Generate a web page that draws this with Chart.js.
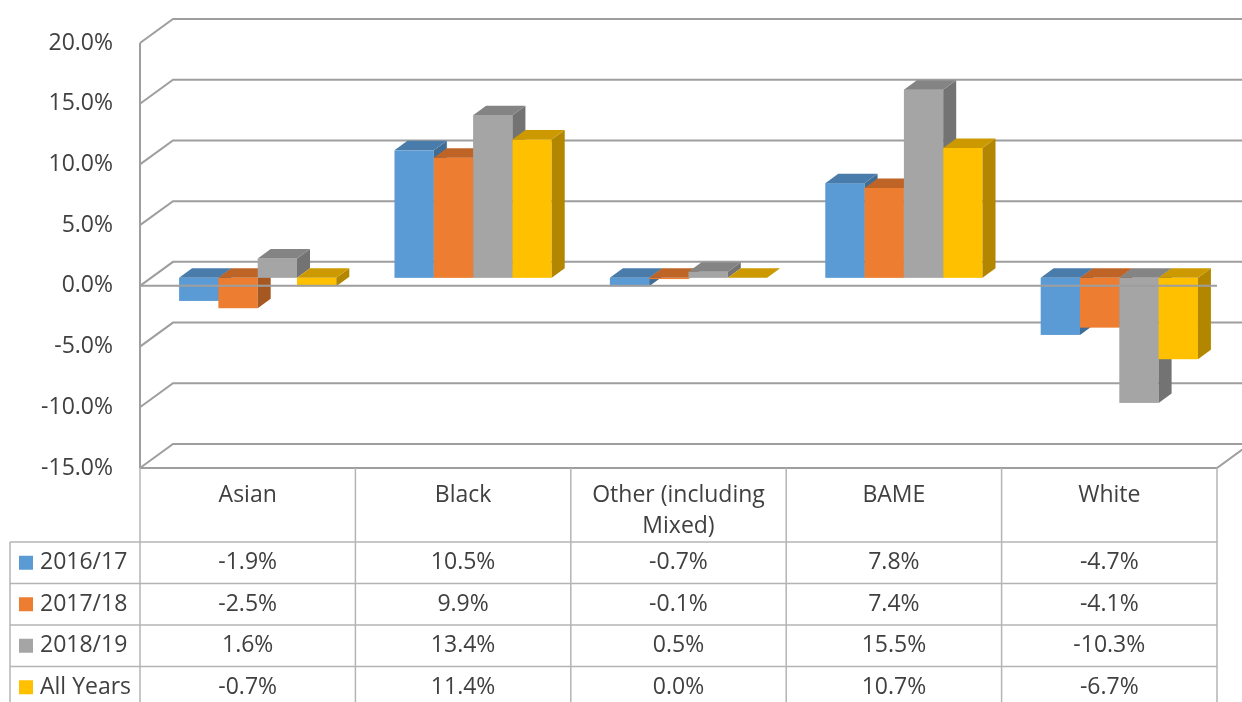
<!DOCTYPE html>
<html>
<head>
<meta charset="utf-8">
<script src="https://cdn.jsdelivr.net/npm/chart.js@4/dist/chart.umd.min.js"></script>
<style>
html, body { margin: 0; padding: 0; background: #fff; }
#wrap { width: 1242px; height: 702px; }
</style>
</head>
<body>
<div id="wrap"><canvas id="grafico" width="1242" height="702"></canvas></div>
<script>
// ===== dados =====
const categorias = [["Asian"], ["Black"], ["Other (including", "Mixed)"], ["BAME"], ["White"]];
const series = ["2016/17", "2017/18", "2018/19", "All Years"];
const v2016 = [-1.9, 10.5, -0.7, 7.8, -4.7];
const v2017 = [-2.5, 9.9, -0.1, 7.4, -4.1];
const v2018 = [1.6, 13.4, 0.5, 15.5, -10.3];
const vTodos = [-0.7, 11.4, 0.0, 10.7, -6.7];
const valores = [v2016, v2017, v2018, vTodos];
const cores = ["#5b9bd5", "#ed7d31", "#a5a5a5", "#ffc000"];
const yMin = -15, yMax = 20, yPasso = 5;

const fonte = '"Open Sans", "Liberation Sans", sans-serif';
const corTexto = "#404040";
const corGrade = "#9e9e9e";
const corTabela = "#b4b4b4";
const PAREDE = { dx: 33, dy: -24 };              // profundidade das paredes
const BARRA = { ox: 10, oy: -8, dx: 13, dy: -9.5 }; // posição e espessura das barras

function escurecer(hex, f) {
    let n = parseInt(hex.slice(1), 16);
    let r = Math.round(((n >> 16) & 255) * f);
    let g = Math.round(((n >> 8) & 255) * f);
    let b = Math.round((n & 255) * f);
    return `rgb(${r},${g},${b})`;
}

function fmt(v) {
    return v.toFixed(1) + "%";
}

function desenharBarra(ctx, el, cor) {
    const p = el.getProps(["x", "y", "base", "width"], true);
    const l = p.x - p.width / 2 + BARRA.ox, r = p.x + p.width / 2 + BARRA.ox;
    const topo = Math.min(p.y, p.base) + BARRA.oy;
    const fundo = Math.max(p.y, p.base) + BARRA.oy;
    const dx = BARRA.dx, dy = BARRA.dy;
    // frente
    ctx.fillStyle = cor;
    ctx.fillRect(l, topo, r - l, fundo - topo);
    // lateral direita
    ctx.fillStyle = escurecer(cor, 0.7);
    ctx.beginPath();
    ctx.moveTo(r, topo); ctx.lineTo(r + dx, topo + dy);
    ctx.lineTo(r + dx, fundo + dy); ctx.lineTo(r, fundo);
    ctx.closePath(); ctx.fill();
    // topo
    ctx.fillStyle = escurecer(cor, 0.8);
    ctx.beginPath();
    ctx.moveTo(l, topo); ctx.lineTo(l + dx, topo + dy);
    ctx.lineTo(r + dx, topo + dy); ctx.lineTo(r, topo);
    ctx.closePath(); ctx.fill();
}

// ===== plugin 3D + tabela =====
const grafico3d = {
    id: "grafico3d",
    beforeDatasetsDraw(chart) {
        const ctx = chart.ctx, a = chart.chartArea, y = chart.scales.y;
        ctx.save();
        ctx.strokeStyle = corGrade;
        ctx.lineWidth = 2;
        // parede do fundo e parede esquerda
        y.ticks.forEach(t => {
            const py = y.getPixelForValue(t.value);
            ctx.beginPath();
            ctx.moveTo(a.left, py);
            ctx.lineTo(a.left + PAREDE.dx, py + PAREDE.dy);
            ctx.lineTo(chart.width + 20, py + PAREDE.dy);
            ctx.stroke();
        });
        ctx.beginPath();
        ctx.moveTo(a.left, a.top); ctx.lineTo(a.left, a.bottom);
        ctx.stroke();
        // chão
        ctx.beginPath();
        ctx.moveTo(a.left, a.bottom); ctx.lineTo(a.right, a.bottom);
        ctx.lineTo(a.right + PAREDE.dx, a.bottom + PAREDE.dy);
        ctx.stroke();

        // barras, da esquerda para a direita
        for (let i = 0; i < categorias.length; i++) {
            chart.data.datasets.forEach((ds, d) => {
                desenharBarra(ctx, chart.getDatasetMeta(d).data[i], cores[d]);
            });
        }

        // linha do zero na frente
        const y0 = y.getPixelForValue(0);
        ctx.beginPath();
        ctx.moveTo(a.left, y0); ctx.lineTo(a.right, y0);
        ctx.stroke();
        ctx.restore();
        return false;
    },
    afterDraw(chart) {
        const ctx = chart.ctx, a = chart.chartArea, x = chart.scales.x;
        const nCat = categorias.length;
        const colW = (a.right - a.left) / nCat;
        const topoT = a.bottom, cab = 74, alt = 41.5, esq = 10;
        const iniLinhas = topoT + cab;
        ctx.save();
        ctx.strokeStyle = corTabela;
        ctx.lineWidth = 1.5;
        // cabeçalho
        for (let k = 0; k <= nCat; k++) {
            const px = a.left + k * colW;
            ctx.beginPath(); ctx.moveTo(px, topoT); ctx.lineTo(px, chart.height); ctx.stroke();
        }
        // linhas de dados
        for (let r = 0; r <= series.length; r++) {
            const py = iniLinhas + r * alt;
            ctx.beginPath(); ctx.moveTo(esq, py); ctx.lineTo(a.right, py); ctx.stroke();
        }
        ctx.beginPath(); ctx.moveTo(esq, iniLinhas); ctx.lineTo(esq, chart.height); ctx.stroke();

        ctx.fillStyle = corTexto;
        ctx.font = `23px ${fonte}`;
        ctx.textBaseline = "middle";
        ctx.textAlign = "center";
        categorias.forEach((linhas, i) => {
            const cx = x.getPixelForValue(i);
            linhas.forEach((t, j) => ctx.fillText(t, cx, topoT + 27 + j * 31));
        });
        series.forEach((nome, s) => {
            const cy = iniLinhas + s * alt + alt / 2;
            ctx.fillStyle = cores[s];
            ctx.fillRect(19, cy - 7, 14, 14);
            ctx.fillStyle = corTexto;
            ctx.textAlign = "left";
            ctx.fillText(nome, 40, cy);
            ctx.textAlign = "center";
            valores[s].forEach((v, i) => ctx.fillText(fmt(v), x.getPixelForValue(i), cy));
        });
        ctx.restore();
    }
};

new Chart(document.getElementById("grafico").getContext("2d"), {
    type: "bar",
    data: {
        labels: categorias,
        datasets: series.map((nome, s) => ({
            label: nome,
            data: valores[s],
            backgroundColor: cores[s],
            barPercentage: 1,
            categoryPercentage: 0.73
        }))
    },
    options: {
        responsive: false,
        animation: false,
        layout: { padding: { left: 0, top: 43, right: 25, bottom: 234 } },
        plugins: { legend: { display: false }, tooltip: { enabled: false } },
        scales: {
            x: { display: false },
            y: {
                min: yMin, max: yMax,
                grid: { display: false, drawTicks: false },
                border: { display: false },
                ticks: {
                    stepSize: yPasso,
                    padding: 27,
                    color: corTexto,
                    font: { family: fonte, size: 23 },
                    callback: v => fmt(v)
                },
                afterFit: s => { s.width = 140; }
            }
        }
    },
    plugins: [grafico3d]
});
</script>
</body>
</html>
